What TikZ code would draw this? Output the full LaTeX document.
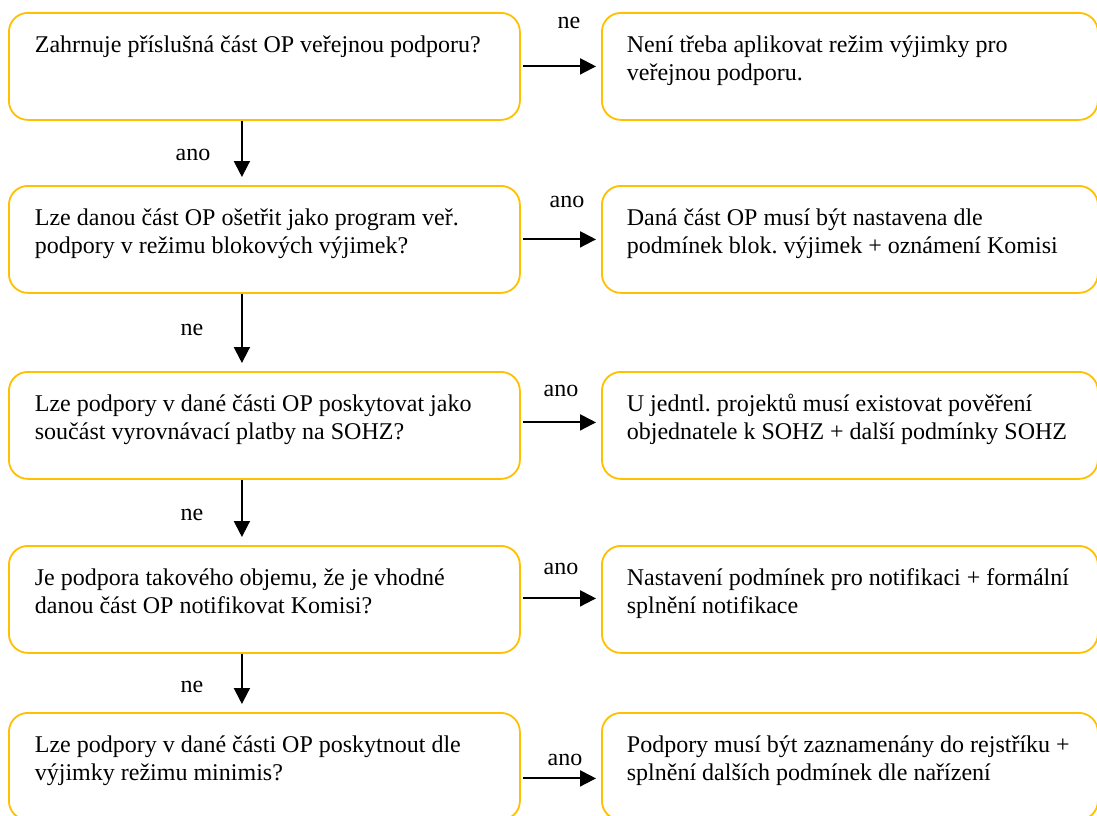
\documentclass[tikz,border=0pt]{standalone}
\usepackage{fontspec}
\setmainfont{Liberation Serif}
\frenchspacing
\usetikzlibrary{arrows.meta, positioning, calc}
\definecolor{boxgold}{HTML}{FFC000}
\newcommand{\qtext}[1]{\parbox[c][66pt][t]{459pt}{\raggedright\strut #1}}
\newcommand{\atext}[1]{\parbox[c][66pt][t]{446pt}{\raggedright\strut #1}}

\begin{document}
\begin{tikzpicture}[
  x=1pt, y=-1pt,
  every node/.style={font=\fontsize{24}{27.6}\selectfont},
  box/.style={rectangle, draw=boxgold, line width=1.8pt, rounded corners=19pt,
    anchor=north west, inner ysep=0pt, minimum height=107pt},
  qbox/.style={box, inner xsep=26pt},
  abox/.style={box, inner xsep=25pt},
  arr/.style={-{Triangle[length=16pt, width=16pt]}, line width=2pt}
]
\useasboundingbox (0,0) rectangle (1097,816);

% Columns
\def\xq{8}    % question boxes
\def\xa{601}  % answer boxes

% Question boxes (left)
\node (q1) [qbox] at (\xq, 12)
  {\qtext{Zahrnuje příslušná část OP veřejnou podporu?}};
\node (q2) [qbox] at (\xq, 185)
  {\qtext{Lze danou část OP ošetřit jako program veř.\\ podpory v režimu blokových výjimek?}};
\node (q3) [qbox] at (\xq, 371)
  {\qtext{Lze podpory v dané části OP poskytovat jako\\ součást vyrovnávací platby na SOHZ?}};
\node (q4) [qbox] at (\xq, 545)
  {\qtext{Je podpora takového objemu, že je vhodné\\ danou část OP notifikovat Komisi?}};
\node (q5) [qbox] at (\xq, 712)
  {\qtext{Lze podpory v dané části OP poskytnout dle\\ výjimky režimu minimis?}};

% Answer boxes (right)
\node (a1) [abox] at (\xa, 12)
  {\atext{Není třeba aplikovat režim výjimky pro\\ veřejnou podporu.}};
\node (a2) [abox] at (\xa, 185)
  {\atext{Daná část OP musí být nastavena dle\\ podmínek blok. výjimek + oznámení Komisi}};
\node (a3) [abox] at (\xa, 371)
  {\atext{U jedntl. projektů musí existovat pověření\\ objednatele k SOHZ + další podmínky SOHZ}};
\node (a4) [abox] at (\xa, 545)
  {\atext{Nastavení podmínek pro notifikaci + formální\\ splnění notifikace}};
\node (a5) [abox] at (\xa, 712)
  {\atext{Podpory musí být zaznamenány do rejstříku +\\ splnění dalších podmínek dle nařízení}};

% Down arrows
\foreach \i/\j in {1/2, 2/3, 3/4, 4/5}
  \draw[arr, shorten >=8pt] ([xshift=-22.5pt]q\i.south) -- ([xshift=-22.5pt]q\j.north);

% Side arrows
\foreach \i/\dy in {1/0, 2/0, 3/3, 4/1}
  \draw[arr, shorten <=2.5pt, shorten >=5pt] ([yshift=\dy pt]q\i.east) -- ([yshift=\dy pt]a\i.west);
\draw[arr, shorten <=2.5pt, shorten >=5pt] ([yshift=-12pt]q5.east) -- ([yshift=-12pt]a5.west);

% Labels
\node (d1) at (193, 155) {ano};
\node (d2) at (192, 330) {ne};
\node (d3) at (192, 515) {ne};
\node (d4) at (192, 687) {ne};
\node (s1) at (569, 23) {ne};
\node (s2) at (567, 202) {ano};
\node (s3) at (561, 391) {ano};
\node (s4) at (561, 569) {ano};
\node (s5) at (565, 760) {ano};

\end{tikzpicture}
\end{document}
